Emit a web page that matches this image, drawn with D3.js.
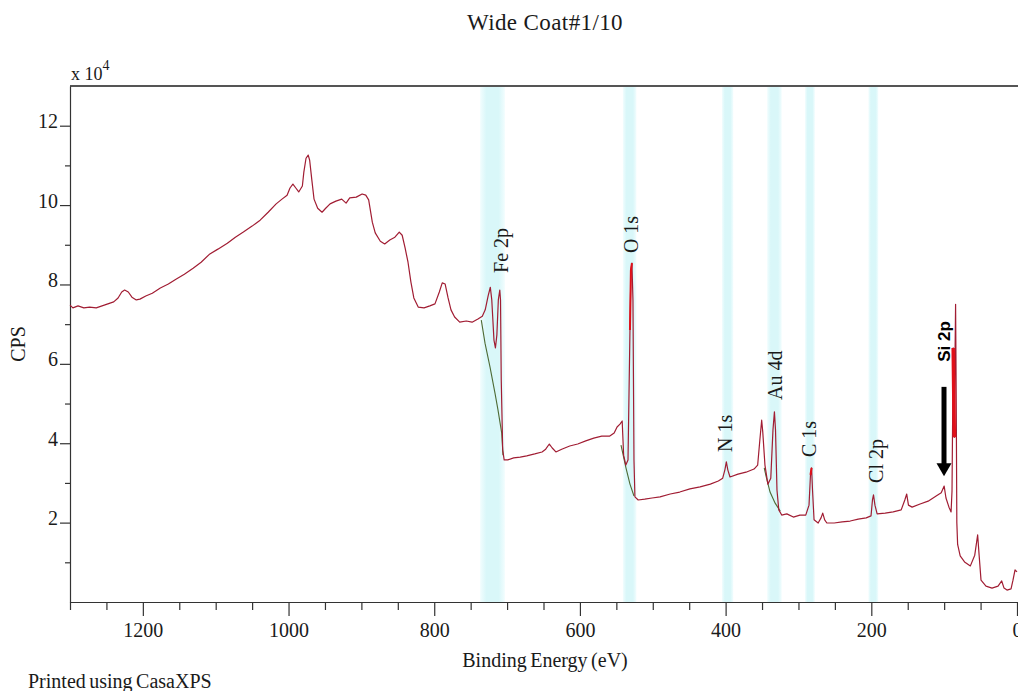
<!DOCTYPE html>
<html lang="en">
<head>
<meta charset="UTF-8" />
<title>Wide Coat#1/10</title>
<style>
  body { margin: 0; background: #fff; }
  svg { display: block; background: #fff; }
  text { font-family: "Liberation Serif", "Times New Roman", serif; fill: #1a1a1a; }
  .axis path, .axis line { stroke: #333; stroke-width: 1.2; }
  .axis text { font-size: 20px; font-family: "Liberation Serif", "Times New Roman", serif; fill: #1a1a1a; }
</style>
</head>
<body>
<svg id="chart" width="1018" height="691" viewBox="0 0 1018 691"></svg>
<script src="https://d3js.org/d3.v7.min.js"></script>
<script>
// survey spectrum (binding energy in eV, counts per second)
const bindingEnergy = [1300, 1296, 1289, 1281, 1273, 1264, 1256, 1248, 1240, 1234, 1229, 1225, 1220, 1215, 1209, 1204,
  1196, 1187, 1176, 1165, 1154, 1143, 1131, 1120, 1108, 1097, 1084, 1073, 1062, 1050, 1039, 1028, 1017, 1009, 1002,
  998, 994, 990, 986, 981, 979, 976, 973, 971, 968, 965, 960, 954, 949, 943, 935, 927, 921, 916, 907, 899, 894, 890,
  885, 881, 874, 868, 861, 854, 848, 844, 840, 836, 832, 828, 822, 814, 806, 799, 793, 789, 785, 781, 777, 772, 765,
  756, 748, 740, 734, 730, 726, 723, 721, 718, 716, 714, 712, 710, 709, 708, 706, 704, 699, 691, 682, 673, 662, 652,
  647, 642, 638, 633, 625, 614, 603, 592, 581, 570, 559, 553, 549, 545, 542, 540, 537, 534, 531.3, 530, 528.6, 527.2,
  525.8, 524.5, 520, 511, 501, 490, 476, 463, 449, 435, 421, 410, 404, 401, 399, 397, 394, 383, 372, 361, 356, 353,
  350.5, 349, 346, 342, 338, 335, 333, 331.5, 329.5, 327, 323, 316, 307, 298, 290, 285.5, 283.5, 282, 280.7, 278.6,
  273, 269, 266.7, 264, 261, 251, 240, 229, 218, 207, 200.4, 198.4, 197, 195, 192, 181, 170, 159, 154, 151.4, 149,
  144, 133, 122, 111, 104, 100, 97.5, 93.4, 90.5, 89.2, 88.2, 87.6, 86.8, 86, 85.2, 84.3, 83.4, 82.6, 81.5, 78, 72,
  64, 58, 54, 52, 49.4, 42.6, 34.3, 26, 21, 17.8, 13.7, 8.2, 5.5, 2.7, 0];
const cps = [74800, 74100, 74600, 74100, 74300, 74100, 74600, 75100, 75600, 76600, 78100, 78600, 78100, 76800, 76100, 76300,
  77100, 77800, 79100, 80100, 81400, 82600, 84100, 85600, 87700, 88900, 90400, 91900, 93200, 94700, 96200, 98200, 100300, 101500, 102500,
  104300, 105300, 104300, 103300, 104800, 108300, 111800, 112600, 111300, 106300, 101500, 99200, 98200, 99200, 100300, 101000, 101500, 100500, 101800, 102000, 102800, 102500, 101300,
  95700, 93000, 90900, 90200, 91200, 91900, 93200, 92400, 89200, 85600, 80600, 76600, 74300, 74100, 74600, 75100, 78100, 80400, 80100, 76600, 73600, 71800, 70500,
  70800, 70500, 71300, 72000, 73600, 77100, 79300, 76100, 66000, 64000, 67300, 76100, 78600, 76100, 55900, 38300, 35800, 35800, 36300, 36500, 36800, 37300, 37800,
  38500, 39800, 38800, 37800, 38500, 39300, 39800, 40600, 41300, 41800, 41800, 42600, 44100, 44800, 45600, 37000, 34500, 35800, 68500, 83600, 85400, 76100,
  35800, 26500, 25700, 25900, 26200, 26500, 27200, 27700, 28500, 29000, 29700, 30500, 31200, 33300, 35300, 33300, 31500, 32200, 32700, 33500, 34500, 40800,
  45800, 42800, 34500, 29700, 31200, 43300, 47900, 43300, 28200, 23200, 21900, 22200, 21400, 21900, 21900, 24400, 32000, 33800, 28200, 20700,
  19900, 21200, 22400, 20700, 19900, 19900, 20200, 20400, 20900, 21200, 21700, 25700, 27000, 24400, 22200, 22400, 22700, 23200, 25700, 27200, 24400,
  23900, 24700, 25400, 26700, 27500, 29200, 26200, 23900, 22700, 28000, 50000, 64000, 52000, 41500, 60000, 75000, 50000, 20000, 14500, 11600, 10100,
  9100, 11800, 16900, 11800, 5500, 4000, 3500, 4000, 5300, 3500, 3000, 3300, 5500, 8100, 7600];

// fitted backgrounds under the main peaks
const bgFeBE = [735.4, 730.3, 723.4, 716.6, 712.5, 707.4, 705.6];
const bgFeCps = [71000, 65200, 59200, 52600, 48400, 42600, 37000];
const bgOBE = [543.6, 536.8, 531.3, 525.8];
const bgOCps = [39500, 33800, 29700, 26700];
const bgAuBE = [347, 344.5, 339, 332, 325];
const bgAuCps = [33800, 31700, 27700, 24900, 22900];

// highlighted component regions (BE from, to)
const highlightFrom = [531.5, 351.5, 334.5, 283.8, 198.6, 88.0];
const highlightTo = [528.0, 349.5, 332.0, 282.0, 197.2, 86.0];

// region bands
const bandNames = ["Fe 2p", "O 1s", "N 1s", "Au 4d", "C 1s", "Cl 2p"];
const bandFrom = [737, 541, 405, 343, 291, 204];
const bandTo = [703, 522.5, 389.5, 323, 277.5, 190.5];

// peak labels: centre BE and CPS at the start of the (vertical) text
const labelBE = [708, 529.2, 401.2, 332.5, 285.5, 193.3];
const labelCps = [82900, 87900, 37800, 50900, 36500, 30000];

const xMajor = [1200, 1000, 800, 600, 400, 200, 0];
const xMinor = d3.range(1300, -1, -50).filter(v => v % 200 !== 0);
const yMajor = [20000, 40000, 60000, 80000, 100000, 120000];
const yMinor = [10000, 30000, 50000, 70000, 90000, 110000];

const svg = d3.select("#chart");
const plotLeft = 70, plotRight = 1017, plotTop = 86, plotBottom = 602;

const x = d3.scaleLinear().domain([1300, 0]).range([plotLeft, plotRight]);
const y = d3.scaleLinear().domain([0, 130000]).range([plotBottom, plotTop]);

// band gradient
const defs = svg.append("defs");
const grad = defs.append("linearGradient").attr("id", "band").attr("x1", "0").attr("x2", "1").attr("y1", "0").attr("y2", "0");
grad.append("stop").attr("offset", "0%").attr("stop-color", "#f2fdfe");
grad.append("stop").attr("offset", "25%").attr("stop-color", "#d9f7f9");
grad.append("stop").attr("offset", "75%").attr("stop-color", "#d9f7f9");
grad.append("stop").attr("offset", "100%").attr("stop-color", "#f2fdfe");

svg.append("g").selectAll("rect")
  .data(bandNames)
  .enter().append("rect")
  .attr("x", (d, i) => x(bandFrom[i]))
  .attr("width", (d, i) => x(bandTo[i]) - x(bandFrom[i]))
  .attr("y", plotTop + 1)
  .attr("height", plotBottom - plotTop - 1)
  .attr("fill", "url(#band)");

// title
svg.append("text")
  .attr("x", 545).attr("y", 30)
  .attr("text-anchor", "middle")
  .style("font-size", "23px")
  .style("letter-spacing", "0.4px")
  .text("Wide Coat#1/10");

// frame: top line
svg.append("line")
  .attr("x1", plotLeft).attr("x2", 1018).attr("y1", plotTop).attr("y2", plotTop)
  .attr("stroke", "#555").attr("stroke-width", 1.8);

// x axis
const gx = svg.append("g").attr("class", "axis").attr("transform", `translate(0,${plotBottom})`);
gx.call(d3.axisBottom(x).tickValues(xMinor).tickSize(8).tickSizeOuter(0).tickFormat(""));
gx.append("g").call(d3.axisBottom(x).tickValues(xMajor).tickSize(14).tickSizeOuter(0).tickFormat(d3.format("d")))
  .call(g => g.select(".domain").remove())
  .call(g => g.selectAll("text").attr("y", 21).attr("dy", "0.71em").style("font-size", "20px"));
gx.selectAll("line").attr("stroke", "#333");

// y axis
const gy = svg.append("g").attr("class", "axis").attr("transform", `translate(${plotLeft},0)`);
gy.call(d3.axisLeft(y).tickValues(yMinor).tickSize(5).tickSizeOuter(0).tickFormat(""));
gy.append("g").call(d3.axisLeft(y).tickValues(yMajor).tickSize(10).tickSizeOuter(0).tickFormat(d => d / 10000))
  .call(g => g.select(".domain").remove())
  .call(g => g.selectAll("text").attr("x", -12).attr("dy", "0.1em").style("font-size", "20px"));

// axis titles
svg.append("text")
  .attr("x", 545).attr("y", 667)
  .attr("text-anchor", "middle")
  .style("font-size", "20px")
  .style("word-spacing", "-1.5px")
  .text("Binding Energy (eV)");

svg.append("text")
  .attr("transform", "translate(25,344) rotate(-90)")
  .attr("text-anchor", "middle")
  .style("font-size", "20px")
  .text("CPS");

const sci = svg.append("text").attr("x", 71).attr("y", 80).style("font-size", "18px");
sci.append("tspan").text("x 10");
sci.append("tspan").attr("dy", -10).style("font-size", "14px").text("4");

svg.append("text")
  .attr("x", 28).attr("y", 688)
  .style("font-size", "20px")
  .style("word-spacing", "-1.5px")
  .text("Printed using CasaXPS");

// spectrum
const line = d3.line().x(d => x(d[0])).y(d => y(d[1]));
const spectrum = bindingEnergy.map((b, i) => [b, cps[i]]);

const bgs = [[bgFeBE, bgFeCps], [bgOBE, bgOCps], [bgAuBE, bgAuCps]];
svg.append("g").selectAll("path")
  .data(bgs)
  .enter().append("path")
  .attr("d", d => line(d[0].map((b, i) => [b, d[1][i]])))
  .attr("fill", "none")
  .attr("stroke", "#4d6a34")
  .attr("stroke-width", 1.1);

svg.append("path")
  .datum(spectrum)
  .attr("d", line)
  .attr("fill", "none")
  .attr("stroke", "#a11d33")
  .attr("stroke-width", 1.2)
  .attr("stroke-linejoin", "round");

svg.append("g").selectAll("path")
  .data(highlightFrom)
  .enter().append("path")
  .attr("d", (d, i) => line(spectrum.filter(p => p[0] <= d && p[0] >= highlightTo[i])))
  .attr("fill", "none")
  .attr("stroke", "#e0101a")
  .attr("stroke-width", (d, i) => i === highlightFrom.length - 1 ? 3.5 : 2);

// peak labels
svg.append("g").selectAll("text")
  .data(bandNames)
  .enter().append("text")
  .attr("transform", (d, i) => `translate(${x(labelBE[i])},${y(labelCps[i])}) rotate(-90)`)
  .attr("dy", "0.35em")
  .style("font-size", "20px")
  .text(d => d);

// Si 2p label and arrow
const siBE = 100.2;
svg.append("text")
  .attr("transform", `translate(${x(siBE)},${y(60500)}) rotate(-90)`)
  .attr("dy", "0.35em")
  .style("font-family", "'Liberation Sans', Arial, sans-serif")
  .style("font-weight", "bold")
  .style("font-size", "17px")
  .style("fill", "#000")
  .text("Si 2p");

const ax = x(siBE), aTop = y(54200), aTip = y(31700);
svg.append("line")
  .attr("x1", ax).attr("x2", ax).attr("y1", aTop).attr("y2", aTip - 12)
  .attr("stroke", "#000").attr("stroke-width", 5);
svg.append("path")
  .attr("d", `M${ax - 7.5},${aTip - 13}L${ax + 7.5},${aTip - 13}L${ax},${aTip}Z`)
  .attr("fill", "#000");
</script>
</body>
</html>
